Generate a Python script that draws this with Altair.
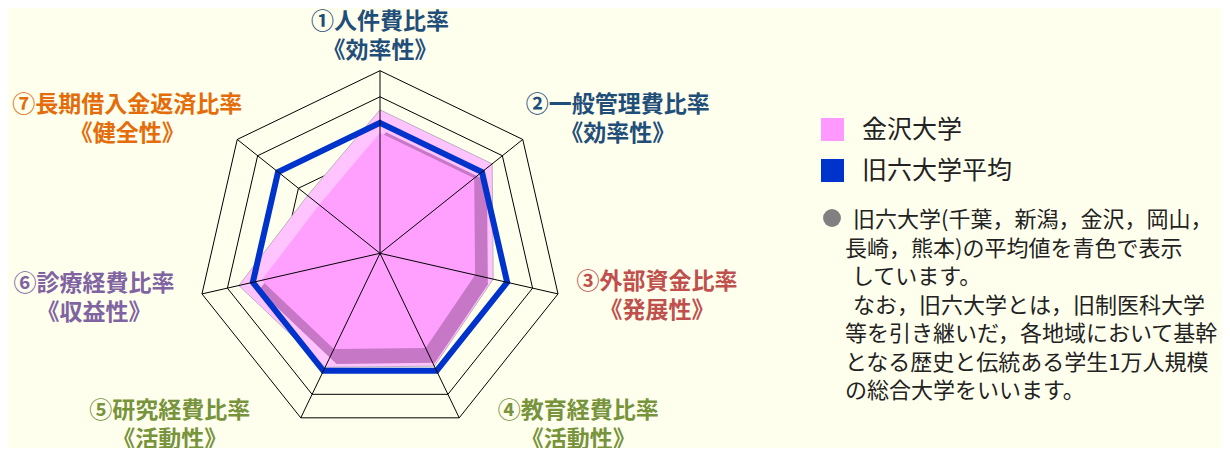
import altair as alt
import pandas as pd

# ---------------- data ----------------
AXIS_NAMES = ["①人件費比率", "②一般管理費比率", "③外部資金比率", "④教育経費比率",
              "⑤研究経費比率", "⑥診療経費比率", "⑦長期借入金返済比率"]
AXIS_GROUPS = ["《効率性》", "《効率性》", "《発展性》", "《活動性》",
               "《活動性》", "《収益性》", "《健全性》"]
KANAZAWA = [110, 110, 89, 96, 97, 111, 71]
OLD_SIX_AVG = [100, 100, 100, 100, 100, 100, 100]
SERIES = ["金沢大学", "旧六大学平均"]
RING_LEVELS = [20, 40, 60, 80, 100, 120, 140]
NOTE_LINES = [
    "旧六大学(千葉，新潟，金沢，岡山，",
    "長崎，熊本)の平均値を青色で表示",
    "しています。",
    "なお，旧六大学とは，旧制医科大学",
    "等を引き継いだ，各地域において基幹",
    "となる歴史と伝統ある学生1万人規模",
    "の総合大学をいいます。",
]

# ---------------- style / layout ----------------
N = len(AXIS_NAMES)
FONT = "Noto Sans CJK JP"
BG = "#FFFFEE"
SERIES_COLORS = ["#FF99FF", "#0033CC"]
LABEL_COLORS = ["#1F4E79", "#1F4E79", "#C0504D", "#77933C", "#77933C", "#8064A2", "#E46C0A"]
LINE_H = 29
LABEL_DX = [0, 95, 99, 119, -131, -108, -110]
LABEL_DY = [d - LINE_H / 2 + 2.5 for d in [-37, -22.5, 0, 5, 5, 2, -22.5]]
NOTE_X, NOTE_Y, NOTE_LH = 837, 202, 28.5
NOTE_INDENT = [8, 0, 7, 8, 0, 0, 0]

W, H = 1214, 440
CX, CY = 372, 245.3
PX_PER_UNIT = 182.6 / 140
x_dom = [-CX / PX_PER_UNIT, (W - CX) / PX_PER_UNIT]
y_dom = [-(H - CY) / PX_PER_UNIT, CY / PX_PER_UNIT]
xs = alt.Scale(domain=x_dom, nice=False, zero=False)
ys = alt.Scale(domain=y_dom, nice=False, zero=False)
X = alt.X("px:Q", scale=xs, axis=None)
Y = alt.Y("py:Q", scale=ys, axis=None)

# ---------------- tables ----------------
rings_df = pd.DataFrame([{"level": lv, "idx": i, "value": lv}
                         for lv in RING_LEVELS for i in range(N)])
values_df = pd.DataFrame([{"series": s, "idx": i, "value": v}
                          for s, vals in zip(SERIES, [KANAZAWA, OLD_SIX_AVG])
                          for i, v in enumerate(vals)])
axes_df = pd.DataFrame({
    "idx": list(range(N)),
    "label": [f"{n}\n{g}" for n, g in zip(AXIS_NAMES, AXIS_GROUPS)],
    "value": [RING_LEVELS[-1]] * N,
})
note_df = pd.DataFrame({"line": list(range(len(NOTE_LINES))), "t": NOTE_LINES})


def polar(chart, r_expr="datum.value"):
    return chart.transform_calculate(
        ang=f"datum.idx * 2 * PI / {N}"
    ).transform_calculate(
        px=f"({r_expr}) * sin(datum.ang)",
        py=f"({r_expr}) * cos(datum.ang)",
    )


rings = polar(alt.Chart(rings_df)).mark_line(
    interpolate="linear-closed", stroke="black", strokeWidth=1
).encode(x=X, y=Y, detail="level:N", order="idx:Q")

pk = alt.Chart(values_df).transform_filter(alt.datum.series == SERIES[0])
pink_outer = polar(pk).mark_line(
    interpolate="linear-closed", filled=True, fill="#FFC4FF",
    stroke="#BDAEBD", strokeWidth=1
).encode(x=X, y=Y, order="idx:Q")
pink_shadow = polar(pk, "datum.value * 0.9").mark_line(
    interpolate="linear-closed", filled=True, fill="#C677C6",
    strokeOpacity=0, xOffset=6, yOffset=8
).encode(x=X, y=Y, order="idx:Q")
pink_main = polar(pk, "datum.value * 0.84").mark_line(
    interpolate="linear-closed", filled=True, fill="#FFA0FF", strokeOpacity=0
).encode(x=X, y=Y, order="idx:Q")

bl = alt.Chart(values_df).transform_filter(alt.datum.series == SERIES[1])
blue = polar(bl).mark_line(
    interpolate="linear-closed", stroke=SERIES_COLORS[1], strokeWidth=6, strokeJoin="miter"
).encode(x=X, y=Y, order="idx:Q")

spokes = polar(alt.Chart(axes_df)).transform_calculate(zx="0", zy="0").mark_rule(
    color="black", strokeWidth=1
).encode(x=alt.X("zx:Q", scale=xs, axis=None), y=alt.Y("zy:Q", scale=ys, axis=None),
         x2="px:Q", y2="py:Q")

labels = []
for k in range(N):
    labels.append(
        polar(alt.Chart(axes_df)).transform_filter(alt.datum.idx == k).mark_text(
            font=FONT, fontSize=23, fontWeight="bold", color=LABEL_COLORS[k],
            align="center", baseline="middle", lineBreak="\n", lineHeight=LINE_H,
            dx=LABEL_DX[k], dy=LABEL_DY[k]
        ).encode(x=X, y=Y, text="label:N")
    )

legend_layer = polar(alt.Chart(values_df)).mark_square(opacity=0).encode(
    x=X, y=Y,
    color=alt.Color("series:N", scale=alt.Scale(domain=SERIES, range=SERIES_COLORS),
                    legend=alt.Legend(title=None, orient="none", legendX=812, legendY=109,
                                      symbolType="square", symbolSize=529, symbolOpacity=1,
                                      symbolStrokeWidth=0, labelFontSize=25, labelFont=FONT,
                                      labelColor="#222222", labelOffset=17, rowPadding=15,
                                      padding=0, labelLimit=400))
)

notes = []
for i, ind in enumerate(NOTE_INDENT):
    notes.append(
        alt.Chart(note_df).transform_filter(alt.datum.line == i).mark_text(
            font=FONT, fontSize=22, color="#222222", align="left", baseline="top"
        ).encode(x=alt.value(NOTE_X + ind), y=alt.value(NOTE_Y + i * NOTE_LH), text="t:N")
    )

bullet = alt.Chart(note_df).transform_filter(alt.datum.line == 0).mark_circle(
    color="#808080", opacity=1, size=320
).encode(x=alt.value(824), y=alt.value(210))

chart = alt.layer(
    rings, pink_outer, pink_shadow, pink_main, blue, spokes, *labels,
    legend_layer, *notes, bullet
).properties(
    width=W, height=H, padding=0, background=BG,
    autosize=alt.AutoSizeParams(type="none")
).configure_view(strokeWidth=0)

chart.save("out.html", embed_options={"renderer": "svg", "actions": False})
